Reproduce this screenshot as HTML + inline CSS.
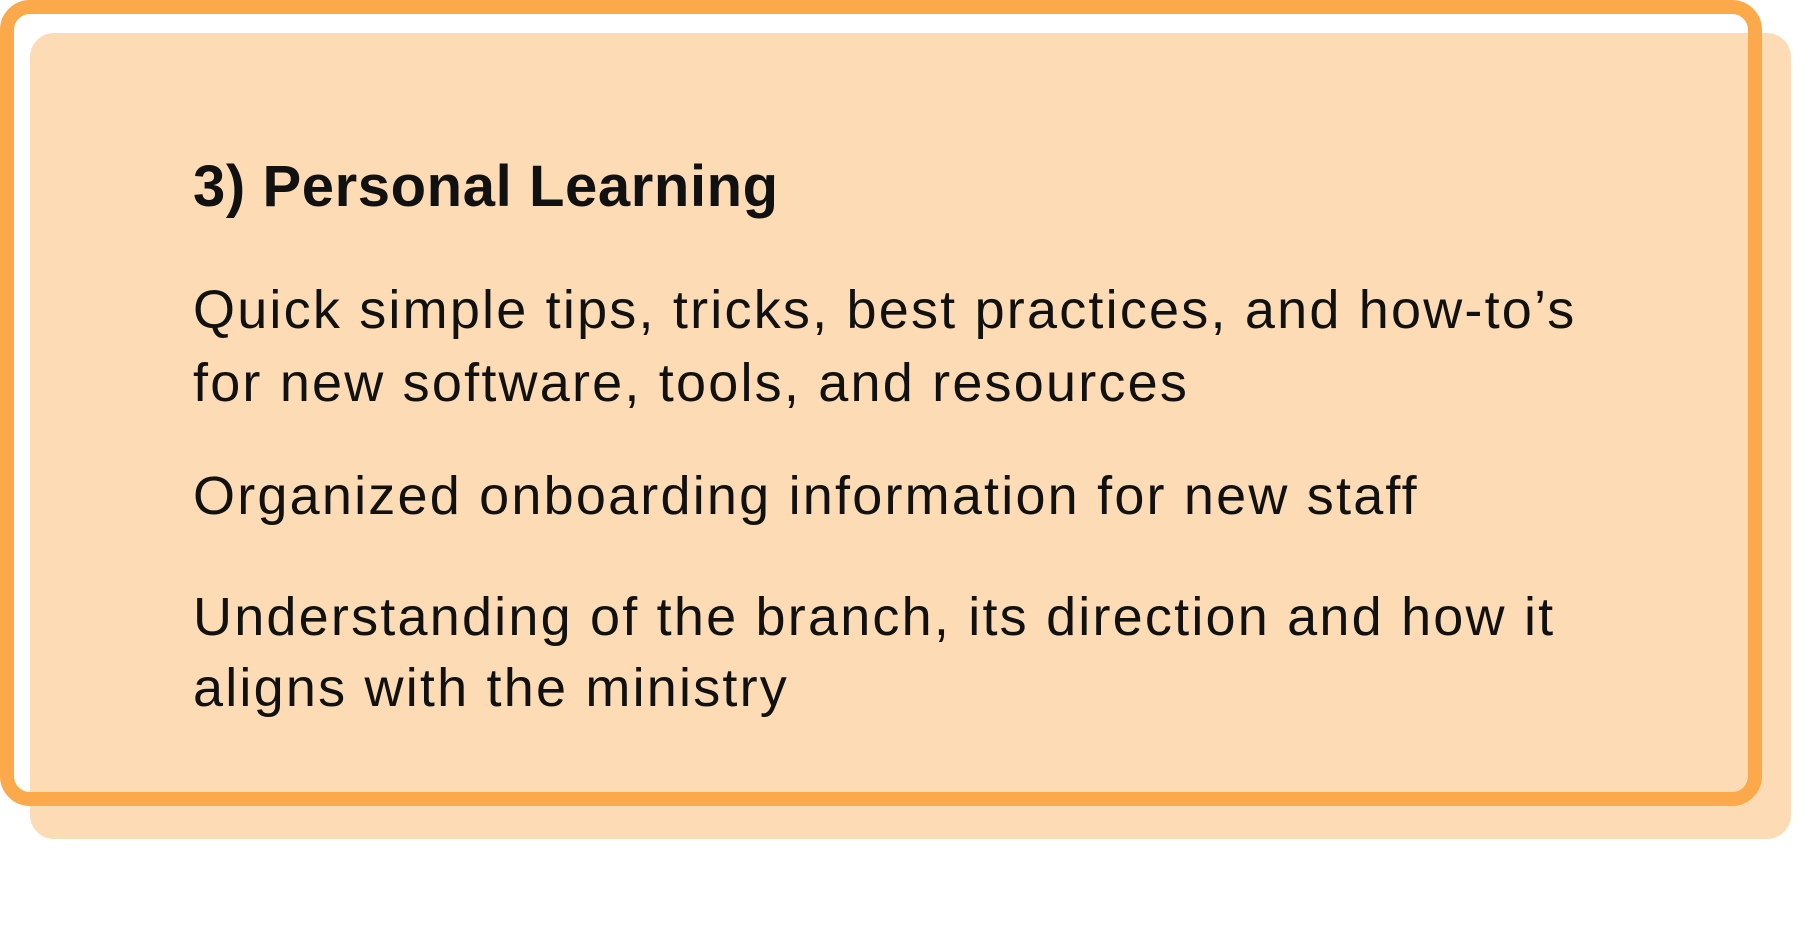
<!DOCTYPE html>
<html><head><meta charset="utf-8"><style>
html,body{margin:0;padding:0;background:#fff;width:1812px;height:933px;overflow:hidden}
.bg{position:absolute;left:30px;top:33px;width:1761px;height:806px;background:#fddcb5;border-radius:24px}
.frame{position:absolute;left:0;top:0;width:1734px;height:778px;border:14px solid #fba94a;border-radius:30px}
.t{position:absolute;left:193px;font-family:"Liberation Sans",sans-serif;color:#111;white-space:nowrap}
.title{font-weight:bold;font-size:58px;letter-spacing:0.6px;top:153px}
.b{font-size:54px;letter-spacing:2.2px}
</style></head><body>
<div class="bg"></div>
<div class="frame"></div>
<div class="t title">3) Personal Learning</div>
<div class="t b" style="top:279px">Quick simple tips, tricks, best practices, and how-to’s</div>
<div class="t b" style="top:352px">for new software, tools, and resources</div>
<div class="t b" style="top:465px">Organized onboarding information for new staff</div>
<div class="t b" style="top:586px">Understanding of the branch, its direction and how it</div>
<div class="t b" style="top:657px">aligns with the ministry</div>
</body></html>
